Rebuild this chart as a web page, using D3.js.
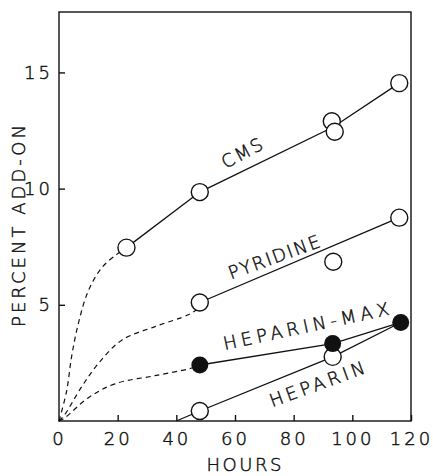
<!DOCTYPE html>
<html>
<head>
<meta charset="utf-8">
<script src="https://cdn.jsdelivr.net/npm/d3@7"></script>
<style>
  body { margin: 0; background: #fff; }
  text { font-family: "DejaVu Sans", sans-serif; font-weight: 200; fill: #111; stroke: #111; stroke-width: 0.45px; }
</style>
</head>
<body>
<svg width="433" height="476"></svg>
<script>
// data: [hours, percent add-on]
const cmsPoints = [[23, 7.46], [48, 9.85], [93, 12.9], [94, 12.45], [116, 14.54]];
const cmsLine = [[23, 7.46], [48, 9.85], [93.5, 12.65], [116, 14.54]];
const cmsDash = [[0, 0], [2.6, 1.29], [4.3, 2.77], [6.6, 4.2], [10, 5.6], [14.6, 6.6], [19.7, 7.17], [23, 7.46]];

const pyrPoints = [[48, 5.1], [93.5, 6.85], [116, 8.75]];
const pyrLine = [[48, 5.1], [116, 8.75]];
const pyrDash = [[0, 0], [2, 0.28], [7.7, 1.47], [13.4, 2.47], [21.4, 3.48], [32.7, 4.06], [44.1, 4.57], [47, 4.8]];

const hepMaxPoints = [[48, 2.41], [93.3, 3.33], [116.5, 4.24]];
const hepMaxDash = [[0, 0], [2, 0.14], [10, 1.0], [19.1, 1.6], [32.7, 1.95], [44.1, 2.24], [48, 2.41]];

const hepPoints = [[48, 0.43], [93.3, 2.76]];
const hepLine = [[40, 0], [48, 0.43], [93.3, 2.76], [116.5, 4.24]];

const xTicks = [0, 20, 40, 60, 80, 100, 120];
const yTicks = [5, 10, 15];

const svg = d3.select('svg');
const mLeft = 59, mRight = 411, mTop = 12, mBottom = 421;

const x = d3.scaleLinear().domain([0, 120]).range([mLeft, mRight]);
const y = d3.scaleLinear().domain([0, 17.6]).range([mBottom, mTop]);

// frame
svg.append('rect')
   .attr('x', mLeft).attr('y', mTop)
   .attr('width', mRight - mLeft).attr('height', mBottom - mTop)
   .attr('fill', 'none').attr('stroke', '#111').attr('stroke-width', 1.4);

// axes, ticks pointing inward
const xAxis = svg.append('g')
   .attr('transform', `translate(0,${mBottom})`)
   .call(d3.axisBottom(x).tickValues(xTicks).tickSize(-6).tickPadding(11));
const yAxis = svg.append('g')
   .attr('transform', `translate(${mLeft},0)`)
   .call(d3.axisLeft(y).tickValues(yTicks).tickSize(-6).tickPadding(6));

[xAxis, yAxis].forEach(g => {
   g.select('.domain').remove();
   g.selectAll('line').attr('stroke', '#111').attr('stroke-width', 1.4);
   g.selectAll('text')
      .style('font-family', '"DejaVu Sans", sans-serif')
      .style('font-weight', 200)
      .style('font-size', '18px')
      .style('letter-spacing', '3px')
      .attr('fill', '#111')
      .attr('stroke', '#111')
      .attr('stroke-width', 0.45);
});
xAxis.selectAll('line').filter(d => d === 0).remove();

const line = d3.line().x(d => x(d[0])).y(d => y(d[1]));
const curve = d3.line().x(d => x(d[0])).y(d => y(d[1])).curve(d3.curveCatmullRom.alpha(0.5));

// dashed early parts
[cmsDash, pyrDash, hepMaxDash].forEach(pts => {
   svg.append('path')
      .attr('d', curve(pts))
      .attr('fill', 'none')
      .attr('stroke', '#111')
      .attr('stroke-width', 1.2)
      .attr('stroke-dasharray', '5,4');
});

// solid lines
[cmsLine, pyrLine, hepMaxPoints, hepLine].forEach(pts => {
   svg.append('path')
      .attr('d', line(pts))
      .attr('fill', 'none')
      .attr('stroke', '#111')
      .attr('stroke-width', 1.3);
});

// open circles
const openPts = cmsPoints.concat(pyrPoints, hepPoints);
svg.selectAll('circle.open')
   .data(openPts)
   .enter()
   .append('circle')
   .attr('class', 'open')
   .attr('cx', d => x(d[0]))
   .attr('cy', d => y(d[1]))
   .attr('r', 8.5)
   .attr('fill', '#fff')
   .attr('stroke', '#111')
   .attr('stroke-width', 1.4);

// filled circles (heparin-max)
svg.selectAll('circle.filled')
   .data(hepMaxPoints)
   .enter()
   .append('circle')
   .attr('class', 'filled')
   .attr('cx', d => x(d[0]))
   .attr('cy', d => y(d[1]))
   .attr('r', 8.5)
   .attr('fill', '#111');

// series labels along the lines
const labels = [
   { text: 'CMS', cx: 242, cy: 153, angle: -28, len: 44 },
   { text: 'PYRIDINE', cx: 274, cy: 257, angle: -20, len: 96 },
   { text: 'HEPARIN-MAX', cx: 306, cy: 326, angle: -12, len: 169 },
   { text: 'HEPARIN', cx: 317, cy: 384, angle: -20, len: 100 }
];
svg.selectAll('text.lbl')
   .data(labels)
   .enter()
   .append('text')
   .attr('class', 'lbl')
   .attr('transform', d => `translate(${d.cx},${d.cy}) rotate(${d.angle})`)
   .attr('text-anchor', 'middle')
   .attr('dy', '0.36em')
   .attr('textLength', d => d.len)
   .attr('lengthAdjust', 'spacing')
   .style('font-size', '18px')
   .text(d => d.text);

// axis titles
svg.append('text')
   .attr('x', 244).attr('y', 465)
   .attr('text-anchor', 'middle')
   .attr('dy', '0.36em')
   .attr('textLength', 75)
   .attr('lengthAdjust', 'spacing')
   .style('font-size', '18px')
   .text('HOURS');

svg.append('text')
   .attr('transform', 'translate(18.5,226) rotate(-90)')
   .attr('text-anchor', 'middle')
   .attr('dy', '0.36em')
   .attr('textLength', 202)
   .attr('lengthAdjust', 'spacing')
   .style('font-size', '18px')
   .text('PERCENT ADD-ON');
</script>
</body>
</html>
